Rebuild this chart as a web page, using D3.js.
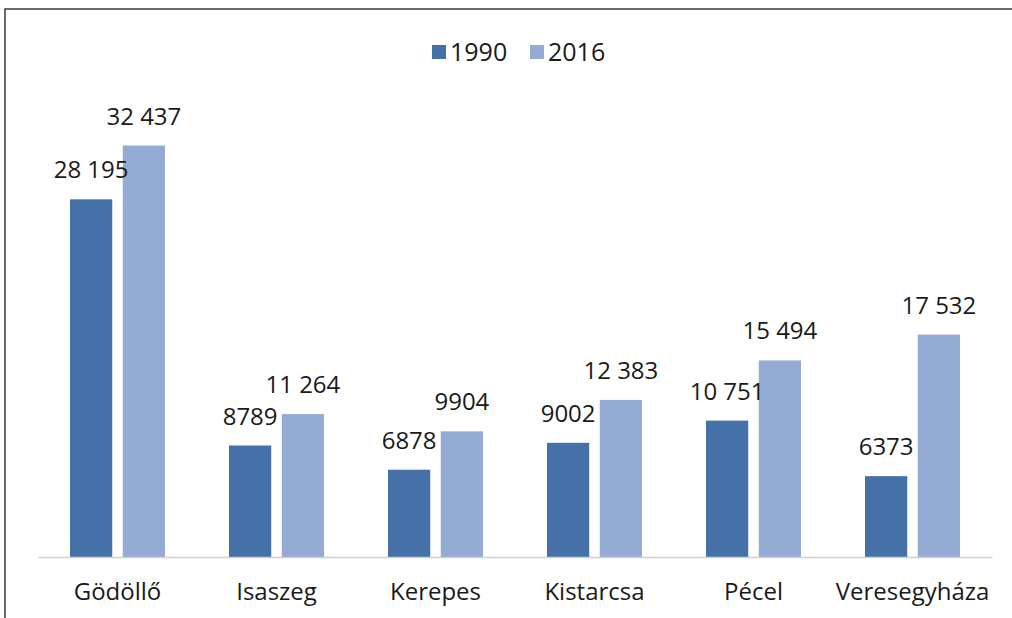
<!DOCTYPE html>
<html>
<head>
<meta charset="utf-8">
<script src="https://cdn.jsdelivr.net/npm/d3@7"></script>
<style>
  body { margin: 0; background: #fff; }
  svg text { font-family: "Open Sans", "Noto Sans", sans-serif; fill: #1a1a1a; }
</style>
</head>
<body>
<svg width="1012" height="618"></svg>
<script>
var categories = ["Gödöllő", "Isaszeg", "Kerepes", "Kistarcsa", "Pécel", "Veresegyháza"];
var seriesNames = ["1990", "2016"];
var values1990 = [28195, 8789, 6878, 9002, 10751, 6373];
var values2016 = [32437, 11264, 9904, 12383, 15494, 17532];
var colors = ["#4671a8", "#94abd3"];

var data = categories.map(function(c, i) {
  return { category: c, values: [values1990[i], values2016[i]] };
});

function fmt(v) {
  if (v < 10000) return String(v);
  return d3.format(",")(v).replace(/,/g, " ");
}

var svg = d3.select("svg");

// outer frame
svg.append("rect")
  .attr("x", 5).attr("y", 9)
  .attr("width", 1030).attr("height", 630)
  .attr("fill", "none")
  .attr("stroke", "#3a3a3a")
  .attr("stroke-width", 1.5);

var plot = { left: 38, right: 992, top: 113, bottom: 557 };

var x0 = d3.scaleBand().domain(categories).range([plot.left, plot.right]);
var x1 = d3.scaleBand().domain([0, 1]).range([0, 95]).paddingInner(0.2);
var y = d3.scaleLinear().domain([0, 35000]).range([plot.bottom, plot.top]);

var groups = svg.selectAll(".grp")
  .data(data)
  .enter()
  .append("g")
  .attr("class", "grp")
  .attr("transform", function(d) {
    return "translate(" + (x0(d.category) + x0.bandwidth() / 2 - 47.5) + ",0)";
  });

groups.selectAll("rect")
  .data(function(d) { return d.values; })
  .enter()
  .append("rect")
  .attr("x", function(d, i) { return x1(i); })
  .attr("width", x1.bandwidth())
  .attr("y", function(d) { return y(d); })
  .attr("height", function(d) { return plot.bottom - y(d); })
  .attr("fill", function(d, i) { return colors[i]; });

groups.selectAll("text.val")
  .data(function(d) { return d.values; })
  .enter()
  .append("text")
  .attr("class", "val")
  .attr("x", function(d, i) { return x1(i) + x1.bandwidth() / 2; })
  .attr("y", function(d) { return y(d) - 21; })
  .attr("text-anchor", "middle")
  .style("font-size", "24px")
  .text(function(d) { return fmt(d); });

// x axis
var xAxis = svg.append("g")
  .attr("transform", "translate(0," + plot.bottom + ")")
  .call(d3.axisBottom(x0).tickSize(0).tickPadding(26));
xAxis.select(".domain").attr("stroke", "#d0d0d0").attr("stroke-width", 1.5);
xAxis.selectAll(".tick text")
  .style("font-size", "24px")
  .style("font-family", "'Open Sans', 'Noto Sans', sans-serif")
  .attr("fill", "#1a1a1a");

// legend
var legend = svg.append("g").attr("transform", "translate(432,45)");
var items = legend.selectAll("g")
  .data(seriesNames)
  .enter()
  .append("g")
  .attr("transform", function(d, i) { return "translate(" + (i * 98) + ",0)"; });
items.append("rect")
  .attr("width", 14).attr("height", 14)
  .attr("fill", function(d, i) { return colors[i]; });
items.append("text")
  .attr("x", 18).attr("y", 16)
  .style("font-size", "25px")
  .text(function(d) { return d; });
</script>
</body>
</html>
